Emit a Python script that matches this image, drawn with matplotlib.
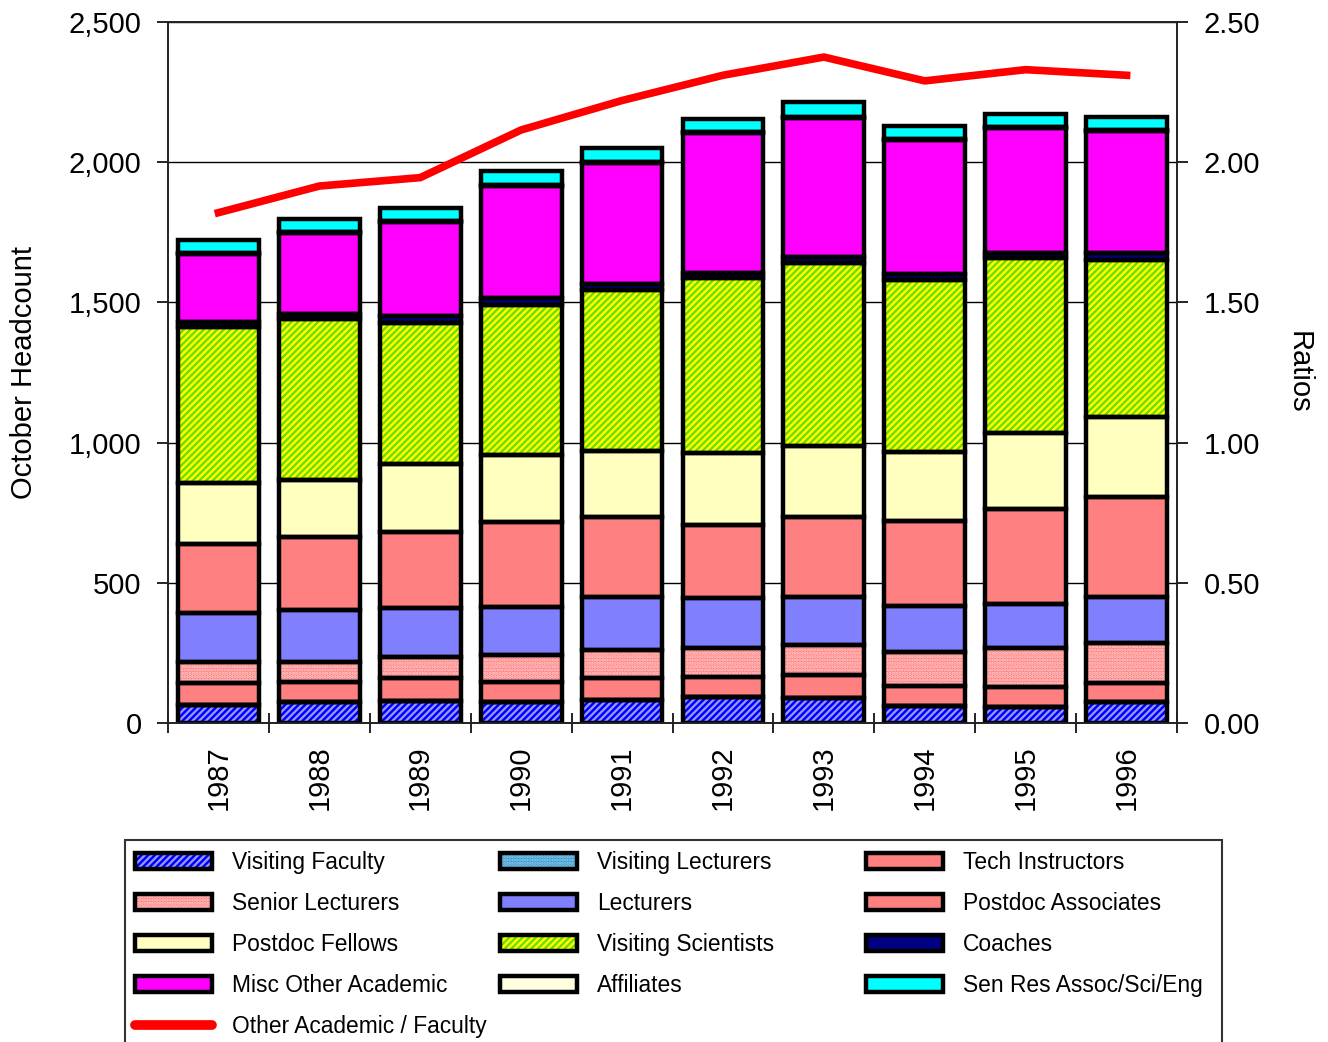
import numpy as np
import matplotlib
matplotlib.use("Agg")
import matplotlib.pyplot as plt
from matplotlib.patches import Patch, Rectangle
from matplotlib.lines import Line2D
from matplotlib.legend_handler import HandlerTuple

plt.rcParams['font.family'] = ['Liberation Sans', 'DejaVu Sans']
plt.rcParams['hatch.linewidth'] = 1.6

years = ['1987', '1988', '1989', '1990', '1991', '1992', '1993', '1994', '1995', '1996']

visiting_faculty = [64, 75, 78, 75, 82, 93, 89, 61, 57, 75]
visiting_lecturers = [0, 0, 0, 0, 0, 0, 0, 0, 0, 0]
tech_instructors = [79, 71, 82, 71, 78, 71, 82, 71, 71, 68]
senior_lecturers = [75, 72, 75, 97, 100, 103, 107, 121, 139, 142]
lecturers = [174, 185, 175, 171, 189, 179, 171, 164, 157, 164]
postdoc_associates = [246, 260, 271, 303, 286, 260, 286, 303, 339, 357]
postdoc_fellows = [218, 204, 243, 239, 235, 257, 253, 246, 271, 285]
visiting_scientists = [556, 574, 503, 535, 574, 624, 652, 614, 624, 560]
coaches = [18, 18, 24, 25, 22, 18, 22, 21, 18, 25]
misc_other = [243, 289, 336, 400, 432, 500, 496, 479, 446, 436]
affiliates = [3, 3, 3, 3, 3, 3, 3, 3, 3, 3]
sen_res_assoc = [47, 46, 47, 50, 50, 46, 54, 46, 47, 46]

ratio = [1.82, 1.915, 1.945, 2.115, 2.22, 2.31, 2.375, 2.29, 2.33, 2.31]

# name, values, facecolor, hatch, hatch colour
series = [
    ('Visiting Faculty', visiting_faculty, '#0000ff', '/////', '#9999ff'),
    ('Visiting Lecturers', visiting_lecturers, '#3399cc', '.....', '#99ccee'),
    ('Tech Instructors', tech_instructors, '#ff8080', None, None),
    ('Senior Lecturers', senior_lecturers, '#ff8080', '.....', '#ffcccc'),
    ('Lecturers', lecturers, '#8080ff', None, None),
    ('Postdoc Associates', postdoc_associates, '#ff8080', None, None),
    ('Postdoc Fellows', postdoc_fellows, '#ffffc0', None, None),
    ('Visiting Scientists', visiting_scientists, '#ffff00', '/////', '#66dd00'),
    ('Coaches', coaches, '#000080', None, None),
    ('Misc Other Academic', misc_other, '#ff00ff', None, None),
    ('Affiliates', affiliates, '#ffffe0', None, None),
    ('Sen Res Assoc/Sci/Eng', sen_res_assoc, '#00ffff', None, None),
]

W, H = 1328, 1042
fig = plt.figure(figsize=(W / 100, H / 100), dpi=100)
ax = fig.add_axes([168 / W, (H - 723) / H, (1177 - 168) / W, (723 - 22) / H])

x = np.arange(len(years))
width = 0.8
bottom = np.zeros(len(years))
handles = []
for name, vals, fc, hatch, hc in series:
    vals = np.array(vals, dtype=float)
    if hatch:
        ax.bar(x, vals, width, bottom=bottom, color=fc, hatch=hatch,
               edgecolor=hc, linewidth=0, zorder=2)
        h1 = Patch(facecolor=fc, hatch=hatch, edgecolor=hc, linewidth=0)
    else:
        ax.bar(x, vals, width, bottom=bottom, color=fc, linewidth=0, zorder=2)
        h1 = Patch(facecolor=fc, linewidth=0)
    ax.bar(x, vals, width, bottom=bottom, fill=False, edgecolor='black',
           linewidth=3.2, zorder=3)
    h2 = Patch(facecolor='none', edgecolor='black', linewidth=3.2)
    handles.append(((h1, h2), name))
    bottom += vals

ax.set_xlim(-0.5, len(years) - 0.5)
ax.set_ylim(0, 2500)
ax.set_yticks(np.arange(0, 2501, 500))
ax.set_yticklabels([f'{v:,}' for v in range(0, 2501, 500)])
ax.yaxis.grid(True, color='black', linewidth=1.0, zorder=0)
ax.set_axisbelow(True)
ax.set_xticks(x)
ax.set_xticklabels(years, rotation=90)
ax.set_xticks(np.arange(-0.5, len(years)), minor=True)
ax.tick_params(axis='x', which='major', length=0, labelsize=21, pad=16)
ax.tick_params(axis='x', which='minor', length=14, width=1.2, direction='inout')
ax.tick_params(axis='y', length=8, width=1.2, labelsize=21, pad=11)
ax.set_ylabel('October Headcount', fontsize=21, va='center')
ax.yaxis.set_label_coords((24 - 168) / (1177 - 168), 0.5)
for s in ax.spines.values():
    s.set_linewidth(1.2)
    s.set_color('#222222')

ax2 = ax.twinx()
ax2.plot(x, ratio, color='#ff0000', linewidth=5.5, zorder=5)
ax2.set_ylim(0, 2.5)
ax2.set_yticks(np.arange(0, 2.51, 0.5))
ax2.set_yticklabels([f'{v:.2f}' for v in np.arange(0, 2.51, 0.5)])
ax2.tick_params(axis='y', length=8, width=1.2, labelsize=21, pad=11)
ax2.set_ylabel('Ratios', fontsize=21, rotation=270, va='center')
ax2.yaxis.set_label_coords((1299 - 168) / (1177 - 168), 0.5)
for s in ax2.spines.values():
    s.set_linewidth(1.2)
    s.set_color('#222222')

line_handle = Line2D([0], [0], color='#ff0000', linewidth=7, solid_capstyle='round')
leg_handles = [h for h, _ in handles] + [line_handle]
leg_labels = [n for _, n in handles] + ['Other Academic / Faculty']

# legend frame, cut off by the bottom edge as in the original
fig.add_artist(Rectangle((125 / W, -0.02), (1222 - 125) / W, (H - 840) / H + 0.02,
                         transform=fig.transFigure, fill=False,
                         edgecolor='#333333', linewidth=1.5))

# three legend columns with equal spacing, filled row by row
col_left = [135, 500, 866]
for c in range(3):
    idx = list(range(c, len(leg_handles), 3))
    fig.legend([leg_handles[i] for i in idx], [leg_labels[i] for i in idx],
               loc='upper left', bbox_to_anchor=(col_left[c] / W, (H - 851) / H),
               frameon=False, fontsize=16.4, borderpad=0, borderaxespad=0,
               handlelength=3.4, handleheight=0.7, labelspacing=0.79,
               handletextpad=0.85,
               handler_map={tuple: HandlerTuple(ndivide=1, pad=0)})

fig.savefig('out.png', dpi=100)
